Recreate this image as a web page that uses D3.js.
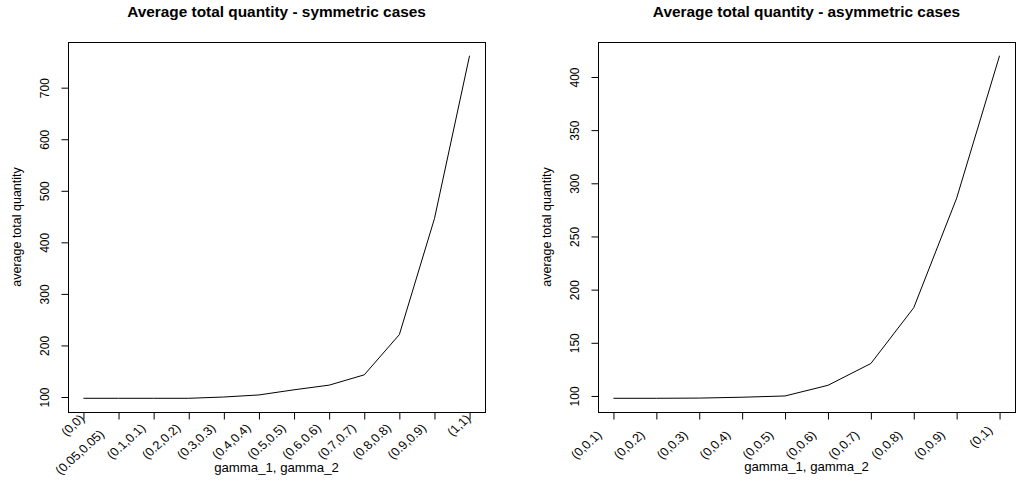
<!DOCTYPE html>
<html>
<head>
<meta charset="utf-8">
<script src="https://cdn.jsdelivr.net/npm/d3@7"></script>
<style>
  body { margin: 0; background: #fff; }
  text { font-family: "Liberation Sans", Arial, sans-serif; fill: #000; }
</style>
</head>
<body>
<svg id="chart" width="1033" height="481"></svg>
<script>
const symLabels = ['(0,0)', '(0.05,0.05)', '(0.1,0.1)', '(0.2,0.2)', '(0.3,0.3)', '(0.4,0.4)',
  '(0.5,0.5)', '(0.6,0.6)', '(0.7,0.7)', '(0.8,0.8)', '(0.9,0.9)', '(1,1)'];
const symValues = [97.5, 97.5, 97.5, 97.5, 100, 104, 114, 123, 143, 221, 446, 762];
const symTicks = [100, 200, 300, 400, 500, 600, 700];

const asymLabels = ['(0,0.1)', '(0,0.2)', '(0,0.3)', '(0,0.4)', '(0,0.5)', '(0,0.6)',
  '(0,0.7)', '(0,0.8)', '(0,0.9)', '(0,1)'];
const asymValues = [97.8, 97.8, 98, 98.8, 100, 110, 130.5, 183, 286, 420];
const asymTicks = [100, 150, 200, 250, 300, 350, 400];

const svg = d3.select('#chart');
svg.append('rect').attr('width', 1033).attr('height', 481).attr('fill', '#fff');

const stretch = 1.1; // the reference glyphs are a bit wider than tall

// R style: pad the data range by 4% on each side
function padded(lo, hi) {
  const p = (hi - lo) * 0.04;
  return [lo - p, hi + p];
}

function drawPanel(opts) {
  const { left, right, top, bottom } = opts.box;
  const n = opts.labels.length;
  const x = d3.scaleLinear().domain(padded(1, n)).range([left, right]);
  const y = d3.scaleLinear().domain(padded(d3.min(opts.values), d3.max(opts.values))).range([bottom, top]);
  const g = svg.append('g');

  g.append('rect')
    .attr('x', left + 0.5).attr('y', top + 0.5)
    .attr('width', right - left).attr('height', bottom - top)
    .attr('fill', 'none').attr('stroke', '#000');

  const line = d3.line().x((d, i) => x(i + 1)).y(d => y(d));
  g.append('path')
    .datum(opts.values)
    .attr('d', line)
    .attr('fill', 'none')
    .attr('stroke', '#000')
    .attr('stroke-width', 1);

  // y axis
  const yAxis = d3.axisLeft(y).tickValues(opts.yTicks).tickSize(7).tickPadding(0).tickFormat(d3.format('d'));
  const ya = g.append('g').attr('transform', `translate(${left + 0.5},0)`).call(yAxis);
  ya.select('.domain').remove();
  ya.selectAll('.tick line').attr('stroke', '#000');
  ya.selectAll('.tick text')
    .attr('x', null).attr('dy', null)
    .attr('text-anchor', 'middle')
    .attr('transform', `translate(-20,0) scale(${stretch},1) rotate(-90)`)
    .style('font-size', '12px')
    .style('font-family', '"Liberation Sans", Arial, sans-serif');

  // x axis
  const xAxis = d3.axisBottom(x).tickValues(d3.range(1, n + 1)).tickSize(7).tickFormat('');
  const xa = g.append('g').attr('transform', `translate(0,${bottom + 0.5})`).call(xAxis);
  xa.select('.domain').remove();
  xa.selectAll('.tick line').attr('stroke', '#000');

  g.append('g').selectAll('text')
    .data(opts.labels)
    .enter()
    .append('text')
    .attr('text-anchor', 'end')
    .style('font-size', '11.8px')
    .text(d => d)
    .attr('transform', function (d, i) {
      const L = this.getComputedTextLength();
      const ex = x(i + 1) + opts.lab.dx - opts.lab.k * L;
      const ey = bottom + opts.lab.dy + opts.lab.k * L;
      return `translate(${ex},${ey}) scale(${stretch},1) rotate(-45) translate(0,8)`;
    });

  g.append('text')
    .attr('transform', `translate(${(left + right) / 2},17) scale(${stretch},1)`)
    .attr('text-anchor', 'middle')
    .style('font-size', '14px')
    .style('font-weight', 'bold')
    .text(opts.title);

  g.append('text')
    .attr('transform', `translate(${(left + right) / 2},${opts.xTitleY}) scale(${stretch},1)`)
    .attr('text-anchor', 'middle')
    .style('font-size', '12px')
    .text('gamma_1, gamma_2');

  g.append('text')
    .attr('transform', `translate(${left - 47},${(top + bottom) / 2}) rotate(-90)`)
    .attr('text-anchor', 'middle')
    .style('font-size', '12.5px')
    .text('average total quantity');
}

drawPanel({
  box: { left: 68, right: 485, top: 42, bottom: 412 },
  labels: symLabels,
  values: symValues,
  yTicks: symTicks,
  title: 'Average total quantity - symmetric cases',
  xTitleY: 472,
  lab: { dx: 7, dy: -9.5, k: 0.47 },
});

drawPanel({
  box: { left: 598, right: 1015, top: 42, bottom: 412 },
  labels: asymLabels,
  values: asymValues,
  yTicks: asymTicks,
  title: 'Average total quantity - asymmetric cases',
  xTitleY: 471,
  lab: { dx: -1, dy: 2, k: 0.47 },
});
</script>
</body>
</html>
